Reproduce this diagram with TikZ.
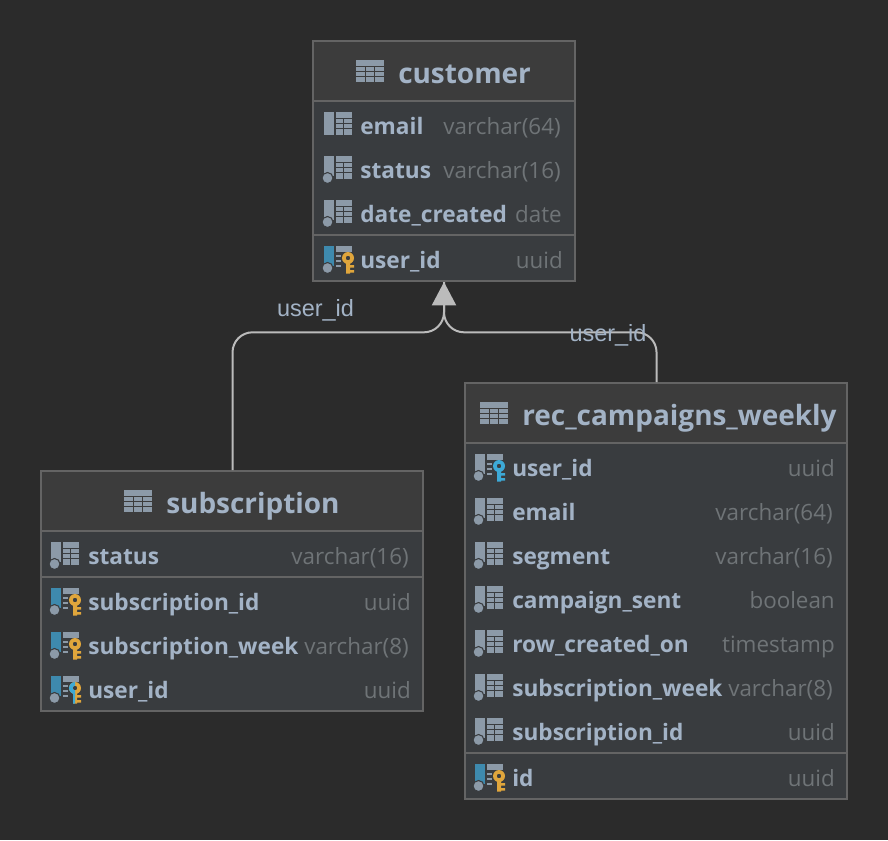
\documentclass[tikz,border=0pt]{standalone}
\usepackage{fontspec}
\setmainfont{Open Sans}
\newfontfamily\labelfont{Liberation Sans}
\usetikzlibrary{arrows.meta}

\definecolor{bgdark}{HTML}{2B2B2B}
\definecolor{headfill}{HTML}{3C3C3C}
\definecolor{bodyfill}{HTML}{393C3F}
\definecolor{edgegray}{HTML}{646464}
\definecolor{namecol}{HTML}{A3B3C6}
\definecolor{typecol}{HTML}{6F7477}
\definecolor{iconcol}{HTML}{8C9AA8}
\definecolor{linkcol}{HTML}{BBBBBB}
\definecolor{barblue}{HTML}{3E8AAE}
\definecolor{keyorange}{HTML}{E0A63C}
\definecolor{keyblue}{HTML}{3DA9D6}

\tikzset{
  tblbox/.style={draw=edgegray, line width=1.5pt, fill=bodyfill, inner sep=0pt},
  sepline/.style={edgegray, line width=1.5pt},
  titletext/.style={anchor=base west, inner sep=0pt, text=namecol, font=\fontsize{20.95}{24}\selectfont\bfseries},
  colname/.style={anchor=base west, inner sep=0pt, yshift=-0.75pt, text=namecol, font=\fontsize{17}{20}\selectfont\bfseries},
  coltype/.style={anchor=base east, inner sep=0pt, yshift=-0.75pt, text=typecol, font=\fontsize{16.8}{20}\selectfont},
  reflabel/.style={inner sep=0pt, yshift=-0.75pt, text=namecol, font=\labelfont\fontsize{17.6}{20}\selectfont},
}

% table icon of a title bar
\newcommand{\tableicon}[2]{
  \fill[iconcol] (#1,#2) rectangle ++(28,22);
  \draw[headfill, line width=0.7pt] (#1,#2+6.5) -- ++(28,0) (#1,#2+11.5) -- ++(28,0) (#1,#2+16.5) -- ++(28,0)
    (#1+9.5,#2+6.5) -- ++(0,15.5) (#1+18.5,#2+6.5) -- ++(0,15.5);
}
% grid part of a column icon
\newcommand{\gridicon}[2]{
  \fill[iconcol] (#1+12,#2-14) rectangle ++(16,23);
  \draw[bodyfill, line width=0.7pt] (#1+12,#2-7.5) -- ++(16,0) (#1+12,#2-2.5) -- ++(16,0)
    (#1+12,#2+2.5) -- ++(16,0) (#1+19,#2-7.5) -- ++(0,16.5);
}
% marker dot of a column icon
\newcommand{\doticon}[2]{
  \fill[iconcol, draw=bodyfill, line width=0.8pt] (#1+3.5,#2+8) circle (5.5);
}
% plain column with a dot
\newcommand{\plainicon}[2]{
  \fill[iconcol] (#1,#2-14) rectangle ++(10,20);
  \gridicon{#1}{#2}
  \doticon{#1}{#2}
}
% key shape
\newcommand{\keyshape}[3]{
  \fill[#3, even odd rule] (#1+24,#2-2) circle (6) (#1+24,#2-2) circle (2.3);
  \fill[#3] (#1+22,#2+3) rectangle (#1+26,#2+13.5)
    (#1+26,#2+5) rectangle ++(4,2.5) (#1+26,#2+10) rectangle ++(4,2.5);
}
% column with a key: bar colour, key colour
\newcommand{\keyicon}[4]{
  \fill[#3] (#1,#2-14) rectangle ++(10,20);
  \fill[iconcol] (#1+12,#2-14) rectangle ++(16,6);
  \draw[iconcol, line width=1pt] (#1+12,#2-4) -- ++(5,0) (#1+12,#2+1) -- ++(5,0) (#1+12,#2+6) -- ++(5,0);
  \doticon{#1}{#2}
  \keyshape{#1}{#2}{#4}
}

\begin{document}
\begin{tikzpicture}[x=0.75pt, y=-0.75pt]

\fill[bgdark] (0,0) rectangle (888,840);
\useasboundingbox (0,0) rectangle (888,840);

% customer:
\node[tblbox, minimum width=196.5pt, minimum height=180pt] (customer) at (444,161) {};
\fill[headfill] (314,42) rectangle (574,100);
\draw[sepline] (313,101) -- (575,101);
\draw[sepline] (313,235) -- (575,235);
\tableicon{356}{60}
\node[titletext] (customertitle) at (398,83) {customer};

\fill[iconcol] (324,112) rectangle ++(10,23);
\gridicon{324}{126}
\node[colname] (customeremail) at (360,133) {email};
\node[coltype] (customeremailtype) at (561,133) {varchar(64)};

\plainicon{324}{170}
\node[colname] (customerstatus) at (360,177) {status};
\node[coltype] (customerstatustype) at (561,177) {varchar(16)};

\plainicon{324}{214}
\node[colname] (customerdate) at (360,221) {date\_created};
\node[coltype] (customerdatetype) at (562,221) {date};

\keyicon{324}{260}{barblue}{keyorange}
\node[colname] (customeruser) at (360,267) {user\_id};
\node[coltype] (customerusertype) at (563,267) {uuid};

% subscription:
\node[tblbox, minimum width=286.5pt, minimum height=180pt] (subscription) at (232,591) {};
\fill[headfill] (42,472) rectangle (422,530);
\draw[sepline] (41,531) -- (423,531);
\draw[sepline] (41,577) -- (423,577);
\tableicon{124}{490}
\node[titletext] (subscriptiontitle) at (166,513) {subscription};

\plainicon{51}{556}
\node[colname] (subscriptionstatus) at (88,563) {status};
\node[coltype] (subscriptionstatustype) at (409,563) {varchar(16)};

\keyicon{51}{602}{barblue}{keyorange}
\node[colname] (subscriptionid) at (88,609) {subscription\_id};
\node[coltype] (subscriptionidtype) at (411,609) {uuid};

\keyicon{51}{646}{barblue}{keyorange}
\node[colname] (subscriptionweek) at (88,653) {subscription\_week};
\node[coltype] (subscriptionweektype) at (409,653) {varchar(8)};

\keyicon{51}{690}{barblue}{keyorange}
\begin{scope}
\clip (51,670) rectangle (75,710);
\keyshape{51}{690}{keyblue}
\end{scope}
\node[colname] (subscriptionuser) at (88,697) {user\_id};
\node[coltype] (subscriptionusertype) at (411,697) {uuid};

% rec_campaigns_weekly:
\node[tblbox, minimum width=286.5pt, minimum height=312pt] (rec) at (656,591) {};
\fill[headfill] (466,384) rectangle (846,442);
\draw[sepline] (465,443) -- (847,443);
\draw[sepline] (465,753) -- (847,753);
\tableicon{480}{402}
\node[titletext] (rectitle) at (522,425) {rec\_campaigns\_weekly};

\keyicon{475}{468}{iconcol}{keyblue}
\node[colname] (recuser) at (512,475) {user\_id};
\node[coltype] (recusertype) at (835,475) {uuid};

\plainicon{475}{512}
\node[colname] (recemail) at (512,519) {email};
\node[coltype] (recemailtype) at (833,519) {varchar(64)};

\plainicon{475}{556}
\node[colname] (recsegment) at (512,563) {segment};
\node[coltype] (recsegmenttype) at (833,563) {varchar(16)};

\plainicon{475}{600}
\node[colname] (recsent) at (512,607) {campaign\_sent};
\node[coltype] (recsenttype) at (835,607) {boolean};

\plainicon{475}{644}
\node[colname] (reccreated) at (512,651) {row\_created\_on};
\node[coltype] (reccreatedtype) at (835,651) {timestamp};

\plainicon{475}{688}
\node[colname] (recweek) at (512,695) {subscription\_week};
\node[coltype] (recweektype) at (833,695) {varchar(8)};

\plainicon{475}{732}
\node[colname] (recsub) at (512,739) {subscription\_id};
\node[coltype] (recsubtype) at (835,739) {uuid};

\keyicon{475}{778}{barblue}{keyorange}
\node[colname] (recid) at (512,785) {id};
\node[coltype] (recidtype) at (835,785) {uuid};

% links:
\coordinate (bus) at (444,332.3);
\draw[linkcol, line width=1.5pt, rounded corners=15pt] ([xshift=0.4pt]subscription.north) -- ([xshift=0.4pt]subscription.north |- bus) -- (bus) -- (customer.south);
\draw[linkcol, line width=1.5pt, rounded corners=15pt, -{Triangle[length=17.5pt, width=18pt]}] ([xshift=0.4pt]rec.north) -- ([xshift=0.4pt]rec.north |- bus) -- (bus) -- (customer.south);

\node[reflabel] (subscriptionlink) at (315.5,309) {user\_id};
\node[reflabel] (reclink) at (608,334) {user\_id};

\end{tikzpicture}
\end{document}
